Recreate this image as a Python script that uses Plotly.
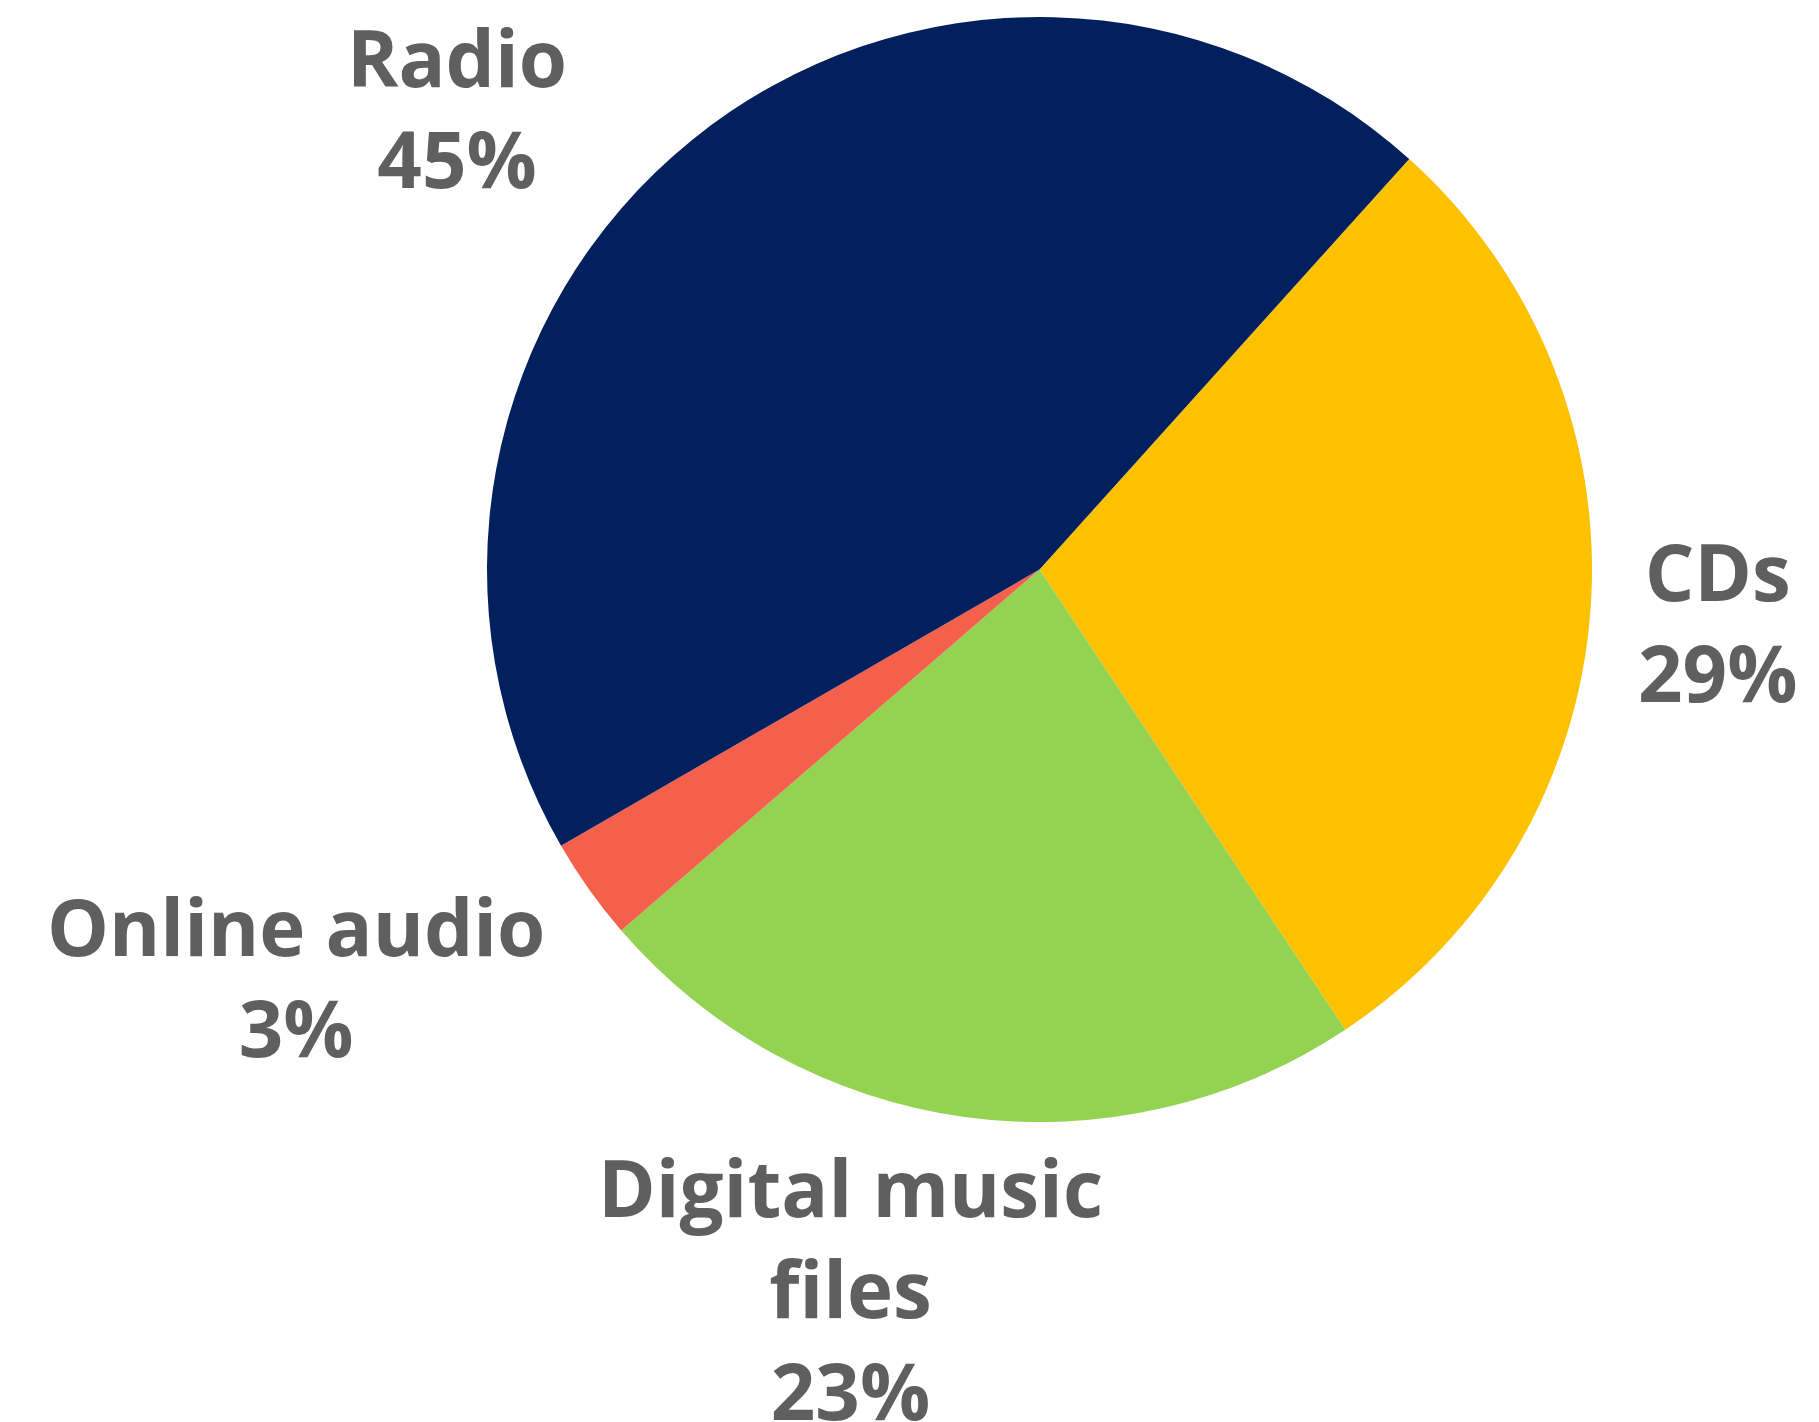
import plotly.graph_objects as go

# slice data, in drawing order (clockwise from the Radio/CDs boundary)
labels = ["CDs", "Digital music files", "Online audio", "Radio"]
shares = [29, 23, 3, 45]
colors = ["#FDC100", "#94D251", "#F5604D", "#03205E"]

# text shown next to each slice (one entry per line)
label_lines = {
    "Radio": ["Radio", "45%"],
    "CDs": ["CDs", "29%"],
    "Online audio": ["Online audio", "3%"],
    "Digital music files": ["Digital music", "files", "23%"],
}

W, H = 1819, 1422
TEXT_COLOR = "#5f5f5f"
FONT = "Open Sans"
FONT_SIZE = 78

# label block centre (x, y) in pixels from the top-left corner
label_pos = {
    "Radio": (457, 108),
    "CDs": (1717, 621),
    "Online audio": (296, 976),
    "Digital music files": (850, 1288),
}

fig = go.Figure(
    go.Pie(
        labels=labels,
        values=shares,
        marker=dict(colors=colors, line=dict(width=0)),
        sort=False,
        direction="clockwise",
        rotation=42,
        textinfo="none",
        showlegend=False,
        domain=dict(x=[487 / W, 1592 / W], y=[1 - 1122 / H, 1 - 17 / H]),
    )
)

for name in labels:
    cx, cy = label_pos[name]
    fig.add_annotation(
        x=cx / W,
        y=1 - cy / H,
        xref="paper",
        yref="paper",
        text="<br>".join(label_lines[name]),
        showarrow=False,
        xanchor="center",
        yanchor="middle",
        align="center",
        font=dict(family=FONT, size=FONT_SIZE, color=TEXT_COLOR, weight=700),
    )

fig.update_layout(
    width=W,
    height=H,
    margin=dict(l=0, r=0, t=0, b=0),
    paper_bgcolor="white",
    plot_bgcolor="white",
)

# drop the browser's default body margin so the figure fills the window
fig.write_html(
    "out.html",
    config={"displayModeBar": False},
    post_script="document.body.style.margin='0';",
)
